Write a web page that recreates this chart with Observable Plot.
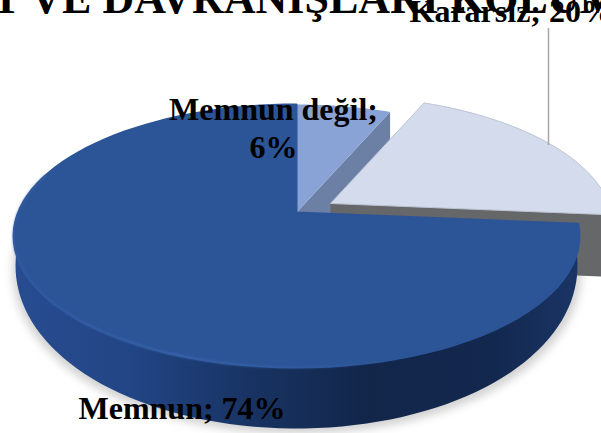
<!DOCTYPE html>
<html lang="tr">
<head>
<meta charset="utf-8">
<style>html,body{margin:0;padding:0;background:#fff;overflow:hidden}</style>
<script src="https://cdn.jsdelivr.net/npm/d3@7"></script>
<script src="https://cdn.jsdelivr.net/npm/@observablehq/plot@0.6"></script>
</head>
<body>
<script>
// Data
const categories = ["Memnun değil", "Kararsız", "Memnun"];
const shares = [6.4, 20.0, 73.6];
const sliceTop = ["#8aa3d6", "#d3dbec", "#2c5597"];
const sliceSide = ["#6c80a6", "#666769", "url(#wallGrad)"];
const titleText = "T VE DAVRANIŞLARI KOLUMU";

// 3D view of the pie (perspective disc)
const cx = 296, cy = 212, A = 127.3, B = 278.4, k = 0.1787, depth = 61, taper = 0.993;
const explode = [[0, 0], [34, -9], [0, 0]];
const project = (a, r = 1) => {
  const h = r * Math.sin(a), v = -r * Math.cos(a), d = 1 - k * v;
  return [cx + B * h / d, cy + A * v / d];
};

const pie = d3.pie().sort(null).value(d => d)(shares);
const arcAngles = (a0, a1) => d3.range(0, 91).map(i => a0 + (a1 - a0) * i / 90);

const topFace = i => {
  const p = pie[i], [dx, dy] = explode[i];
  return [[cx, cy], ...arcAngles(p.startAngle, p.endAngle).map(a => project(a)), [cx, cy]]
    .map(([x, y]) => [x + dx, y + dy]);
};
// the lower rim opens up toward the viewer: the side is deepest at the front
const lowerRim = a => {
  const [x, y] = project(a), v = -Math.cos(a);
  return [cx + (x - cx) * taper, y + 23 + 38 * Math.max(v, 0)];
};
const outerWall = (a0, a1) => {
  const angles = arcAngles(a0, a1);
  return [...angles.map(a => project(a)), ...angles.slice().reverse().map(lowerRim)];
};
const edgeWall = (i, a) => {
  const [dx, dy] = explode[i];
  const far = project(a);
  return [[cx, cy], far, [far[0], far[1] + depth], [cx, cy + depth]].map(([x, y]) => [x + dx, y + dy]);
};
const poly = (pts, o) => Plot.line(pts, {x: d => d[0], y: d => d[1], stroke: "none", curve: "linear", ...o});

const blue = pie[2];
const blueEnd = 2 * Math.PI * 0.80;
const rimPts = arcAngles(blue.startAngle + 0.25, blueEnd).map(a => project(a));
const shadowPts = arcAngles(blue.startAngle, blueEnd).map(lowerRim).map(([x, y]) => [x + (x < cx ? -3 : 4), y + 5]);

const label = i => `${categories[i]}; ${Math.round(shares[i])}%`;
const textStyle = {fontFamily: "Liberation Serif", fontWeight: "bold", fill: "#000", lineAnchor: "bottom"};

const defs = () => {
  const s = d3.create("svg:defs");
  const grad = (id, stops) => {
    const g = s.append("linearGradient").attr("id", id).attr("gradientUnits", "userSpaceOnUse")
      .attr("x1", 15).attr("x2", 580).attr("y1", 0).attr("y2", 0);
    stops.forEach(([o, c, a]) => g.append("stop").attr("offset", o).attr("stop-color", c).attr("stop-opacity", a ?? 1));
  };
  grad("wallGrad", [[0, "#274c90"], [0.2, "#224585"], [0.42, "#183362"], [0.62, "#12264a"], [0.85, "#13284e"], [1, "#1a3566"]]);
  grad("rimGrad", [[0, "#3a63ad", 0.5], [0.3, "#3f6cb9", 0.8], [0.55, "#3a64ad", 0.4], [0.75, "#2c5597", 0], [1, "#2c5597", 0]]);
  return s.node();
};

const chart = Plot.plot({
  width: 601, height: 433, margin: 0,
  x: {domain: [0, 601], range: [0, 601], axis: null},
  y: {domain: [0, 433], range: [0, 433], axis: null},
  marks: [
    defs,
    Plot.text([titleText], {x: () => -9, y: () => 12, text: d => d, textAnchor: "start", fontSize: 44, ...textStyle}),
    poly(shadowPts.concat(shadowPts.slice(0, 1)), {fill: "#d2d2d2", imageFilter: "blur(4px)"}),
    // Memnun değil
    poly(edgeWall(0, pie[0].endAngle), {fill: sliceSide[0]}),
    poly(topFace(0), {fill: sliceTop[0]}),
    // Kararsız
    poly(edgeWall(1, pie[1].endAngle), {fill: sliceSide[1], stroke: sliceSide[1], strokeWidth: 2, strokeLinejoin: "round"}),
    poly(topFace(1), {fill: sliceTop[1], stroke: "#bcc3d2", strokeWidth: 1}),
    // Memnun
    poly(outerWall(blue.startAngle, blueEnd), {fill: sliceSide[2]}),
    poly(topFace(2), {fill: sliceTop[2], stroke: sliceTop[2], strokeWidth: 2, strokeLinejoin: "round"}),
    Plot.line(rimPts, {x: d => d[0], y: d => d[1], stroke: "url(#rimGrad)", strokeWidth: 2, imageFilter: "blur(1px)"}),
    // Leader line
    Plot.ruleX([548], {y1: () => 28, y2: () => 145, stroke: "#a6a6a6", strokeWidth: 1.5}),
    // Labels
    Plot.text([label(1)], {x: () => 409, y: () => 21, text: d => d, textAnchor: "start", fontSize: 32, ...textStyle}),
    Plot.text([`${categories[0]};`], {x: () => 273, y: () => 119, text: d => d, fontSize: 32, ...textStyle}),
    Plot.text([`${Math.round(shares[0])}%`], {x: () => 273, y: () => 157, text: d => d, fontSize: 32, ...textStyle}),
    Plot.text([label(2)], {x: () => 78, y: () => 418, text: d => d, textAnchor: "start", fontSize: 32, ...textStyle})
  ]
});
document.body.append(chart);
</script>
</body>
</html>
